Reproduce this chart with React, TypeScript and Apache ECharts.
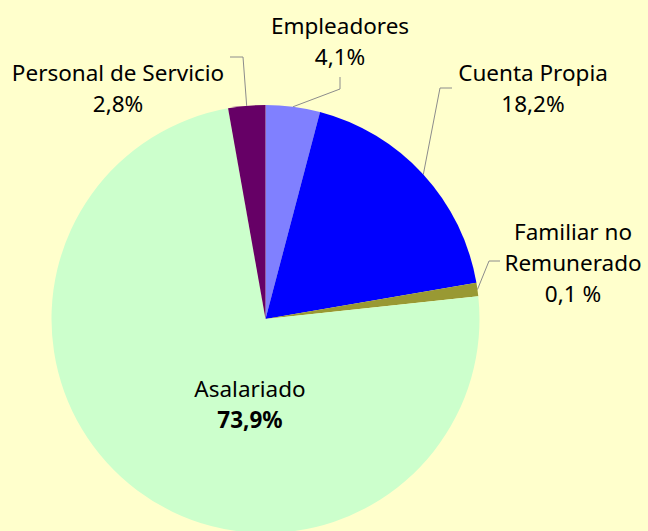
import React, { useEffect, useRef } from "react";
import * as echarts from "echarts";

const categories = ["Empleadores", "Cuenta Propia", "Familiar no\nRemunerado", "Asalariado", "Personal de Servicio"];
const values = [4.1, 18.2, 1.0, 73.9, 2.8];
const valueLabels = ["4,1%", "18,2%", "0,1 %", "73,9%", "2,8%"];
const colors = ["#8080FF", "#0000FF", "#999933", "#CCFFCC", "#660066"];

// label layout (centres) and leader-line bends
const labelCenters: [number, number][] = [
  [340, 41],
  [533, 88],
  [573, 262],
  [250, 404],
  [118, 88],
];
const leaderBends: ([number, number][] | null)[] = [
  [[340, 89], [340, 77]],
  [[440, 88], [452, 88]],
  [[489, 261], [500, 261]],
  null,
  [[243, 57], [230, 57]],
];

export default function App() {
  const ref = useRef<HTMLDivElement>(null);
  useEffect(() => {
    document.body.style.margin = "0";
    const chart = echarts.init(ref.current!, null, { renderer: "svg" });
    const data = categories.map((name, i) => ({
      name,
      value: values[i],
      itemStyle: { color: colors[i] },
      label: {
        formatter: i === 3 ? `{a|${name}}\n{b|${valueLabels[i]}}` : `{a|${name}\n${valueLabels[i]}}`,
      },
      labelLine: { show: leaderBends[i] !== null },
    }));
    chart.setOption({
      animation: false,
      backgroundColor: "#FFFFCC",
      series: [
        {
          type: "pie",
          center: [265.5, 319],
          radius: [0, 214],
          startAngle: 90,
          clockwise: true,
          avoidLabelOverlap: false,
          data,
          label: {
            show: true,
            position: "outside",
            align: "center",
            color: "#000",
            rich: {
              a: { fontFamily: "Noto Sans", fontSize: 22.5, lineHeight: 31, color: "#000", align: "center" },
              b: { fontFamily: "Noto Sans", fontSize: 22.5, lineHeight: 31, fontWeight: "bold", color: "#000", align: "center" },
            },
          },
          labelLine: {
            show: true,
            lineStyle: { color: "#8C8C8C", width: 1 },
          },
          emphasis: { disabled: true },
          labelLayout: (params: any) => {
            const i = params.dataIndex;
            const c = labelCenters[i];
            const res: any = { x: c[0], y: c[1], align: "center", verticalAlign: "middle" };
            const b = leaderBends[i];
            if (b && params.labelLinePoints && params.labelLinePoints[0]) {
              res.labelLinePoints = [params.labelLinePoints[0], b[0], b[1]];
            }
            return res;
          },
        },
      ],
    });
    return () => chart.dispose();
  }, []);
  return <div ref={ref} style={{ position: "absolute", left: 0, top: 0, width: 648, height: 531 }} />;
}
